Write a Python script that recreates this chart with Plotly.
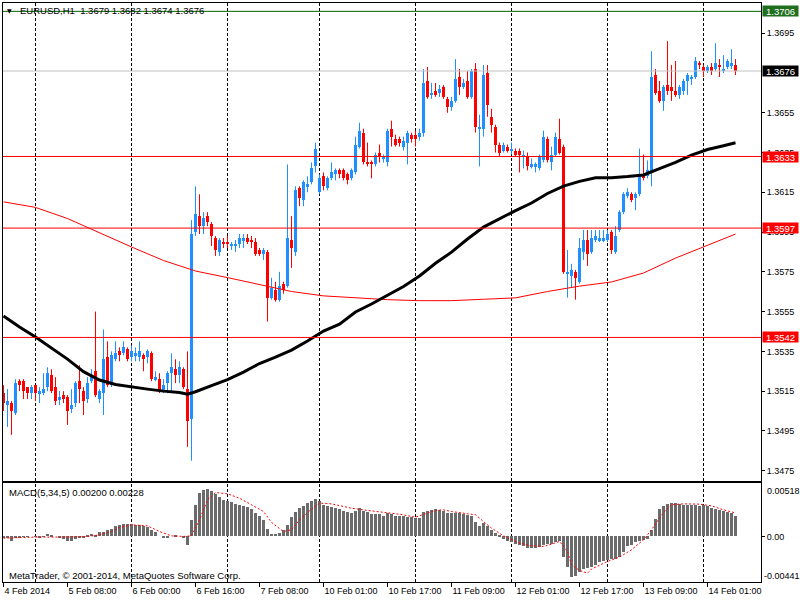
import plotly.graph_objects as go

# EURUSD H1 bars, 4 Feb 2014 16:00 -> 14 Feb 2014 08:00
opens = [
    1.3514, 1.3508, 1.3509, 1.3504, 1.3520, 1.3520, 1.3517, 1.3514, 1.3518, 1.3514,
    1.3514, 1.3517, 1.3523, 1.3517, 1.3511, 1.3513, 1.3512, 1.3506, 1.3509, 1.3520,
    1.3515, 1.3511, 1.3520, 1.3525, 1.3511, 1.3514, 1.3532, 1.3518, 1.3531, 1.3535,
    1.3534, 1.3536, 1.3532, 1.3533, 1.3532, 1.3533, 1.3532, 1.3534, 1.3521, 1.3521,
    1.3515, 1.3519, 1.3524, 1.3526, 1.3523, 1.3526, 1.3516, 1.3501, 1.3595, 1.3603,
    1.3598, 1.3603, 1.3599, 1.3592, 1.3585, 1.3590, 1.3590, 1.3588, 1.3588, 1.3589,
    1.3591, 1.3592, 1.3591, 1.3590, 1.3586, 1.3584, 1.3585, 1.3562, 1.3566, 1.3561,
    1.3569, 1.3568, 1.3591, 1.3585, 1.3617, 1.3611, 1.3618, 1.3620, 1.3628, 1.3615,
    1.3623, 1.3617, 1.3622, 1.3624, 1.3626, 1.3626, 1.3624, 1.3622, 1.3625, 1.3638,
    1.3645, 1.3630, 1.3630, 1.3629, 1.3635, 1.3632, 1.3630, 1.3647, 1.3642, 1.3642,
    1.3638, 1.3640, 1.3644, 1.3644, 1.3643, 1.3645, 1.3671, 1.3664, 1.3666, 1.3665,
    1.3668, 1.3662, 1.3658, 1.3661, 1.3673, 1.3668, 1.3671, 1.3663, 1.3677, 1.3647,
    1.3647, 1.3675, 1.3653, 1.3648, 1.3639, 1.3636, 1.3638, 1.3636, 1.3636, 1.3636,
    1.3633, 1.3633, 1.3628, 1.3628, 1.3627, 1.3631, 1.3642, 1.3630, 1.3634, 1.3642,
    1.3638, 1.3574, 1.3573, 1.3575, 1.3570, 1.3585, 1.3591, 1.3585, 1.3591, 1.3591,
    1.3591, 1.3591, 1.3595, 1.3585, 1.3596, 1.3605, 1.3613, 1.3614, 1.3612, 1.3614,
    1.3624, 1.3623, 1.3625, 1.3674, 1.3666, 1.3661, 1.3669, 1.3668, 1.3666, 1.3664,
    1.3666, 1.3671, 1.3672, 1.3673, 1.3680, 1.3678, 1.3676, 1.3678, 1.3677, 1.3679,
    1.3676, 1.3678, 1.3679, 1.3679]
highs = [
    1.3518, 1.3516, 1.3510, 1.3521, 1.3521, 1.3521, 1.3517, 1.3518, 1.3518, 1.3517,
    1.3524, 1.3527, 1.3526, 1.3522, 1.3515, 1.3515, 1.3513, 1.3516, 1.3520, 1.3528,
    1.3517, 1.3522, 1.3526, 1.3555, 1.3516, 1.3546, 1.3540, 1.3535, 1.3540, 1.3537,
    1.3540, 1.3537, 1.3538, 1.3537, 1.3540, 1.3534, 1.3536, 1.3535, 1.3525, 1.3524,
    1.3521, 1.3525, 1.3534, 1.3531, 1.3530, 1.3527, 1.3535, 1.3601, 1.3618, 1.3614,
    1.3605, 1.3605, 1.3600, 1.3593, 1.3592, 1.3592, 1.3593, 1.3590, 1.3591, 1.3594,
    1.3594, 1.3594, 1.3593, 1.3592, 1.3587, 1.3587, 1.3586, 1.3572, 1.3570, 1.3575,
    1.3570, 1.3629, 1.3603, 1.3618, 1.3618, 1.3621, 1.3623, 1.3630, 1.3640, 1.3624,
    1.3625, 1.3623, 1.3630, 1.3627, 1.3627, 1.3627, 1.3625, 1.3627, 1.3643, 1.3650,
    1.3647, 1.3640, 1.3631, 1.3635, 1.3639, 1.3634, 1.3647, 1.3651, 1.3644, 1.3643,
    1.3643, 1.3646, 1.3645, 1.3646, 1.3647, 1.3677, 1.3678, 1.3670, 1.3670, 1.3669,
    1.3669, 1.3663, 1.3663, 1.3682, 1.3677, 1.3672, 1.3676, 1.3677, 1.3680, 1.3654,
    1.3679, 1.3679, 1.3657, 1.3649, 1.3640, 1.3640, 1.3639, 1.3640, 1.3637, 1.3637,
    1.3636, 1.3635, 1.3632, 1.3630, 1.3634, 1.3646, 1.3643, 1.3638, 1.3645, 1.3652,
    1.3639, 1.3586, 1.3579, 1.3576, 1.3592, 1.3596, 1.3596, 1.3596, 1.3596, 1.3596,
    1.3596, 1.3596, 1.3596, 1.3598, 1.3606, 1.3615, 1.3617, 1.3615, 1.3615, 1.3637,
    1.3634, 1.3631, 1.3686, 1.3677, 1.3671, 1.3669, 1.3691, 1.3679, 1.3681, 1.3669,
    1.3672, 1.3675, 1.3674, 1.3683, 1.3681, 1.3679, 1.3679, 1.3680, 1.3690, 1.3682,
    1.3684, 1.3682, 1.3687, 1.3682]
lows = [
    1.3505, 1.3497, 1.3493, 1.3503, 1.3515, 1.3511, 1.3511, 1.3511, 1.3510, 1.3509,
    1.3513, 1.3515, 1.3514, 1.3508, 1.3508, 1.3509, 1.3498, 1.3504, 1.3507, 1.3509,
    1.3503, 1.3509, 1.3519, 1.3512, 1.3509, 1.3503, 1.3517, 1.3517, 1.3530, 1.3530,
    1.3533, 1.3530, 1.3530, 1.3530, 1.3530, 1.3525, 1.3529, 1.3520, 1.3520, 1.3514,
    1.3514, 1.3514, 1.3515, 1.3519, 1.3519, 1.3516, 1.3487, 1.3480, 1.3593, 1.3594,
    1.3594, 1.3598, 1.3588, 1.3583, 1.3583, 1.3587, 1.3587, 1.3586, 1.3585, 1.3587,
    1.3587, 1.3589, 1.3587, 1.3583, 1.3583, 1.3581, 1.3550, 1.3561, 1.3560, 1.3560,
    1.3564, 1.3567, 1.3577, 1.3583, 1.3608, 1.3608, 1.3615, 1.3619, 1.3625, 1.3614,
    1.3616, 1.3616, 1.3621, 1.3621, 1.3622, 1.3621, 1.3619, 1.3621, 1.3624, 1.3637,
    1.3629, 1.3628, 1.3622, 1.3628, 1.3630, 1.3630, 1.3628, 1.3638, 1.3638, 1.3638,
    1.3636, 1.3629, 1.3640, 1.3638, 1.3641, 1.3643, 1.3662, 1.3662, 1.3663, 1.3663,
    1.3662, 1.3655, 1.3656, 1.3660, 1.3664, 1.3667, 1.3662, 1.3662, 1.3645, 1.3628,
    1.3643, 1.3653, 1.3645, 1.3635, 1.3633, 1.3635, 1.3635, 1.3634, 1.3633, 1.3625,
    1.3627, 1.3626, 1.3627, 1.3625, 1.3626, 1.3630, 1.3630, 1.3626, 1.3633, 1.3634,
    1.3574, 1.3562, 1.3567, 1.3561, 1.3569, 1.3581, 1.3578, 1.3584, 1.3590, 1.3590,
    1.3590, 1.3590, 1.3584, 1.3584, 1.3595, 1.3604, 1.3612, 1.3610, 1.3606, 1.3613,
    1.3621, 1.3622, 1.3618, 1.3664, 1.3660, 1.3656, 1.3664, 1.3661, 1.3663, 1.3662,
    1.3664, 1.3664, 1.3669, 1.3672, 1.3677, 1.3673, 1.3675, 1.3674, 1.3676, 1.3673,
    1.3675, 1.3677, 1.3677, 1.3674]
closes = [
    1.3509, 1.3510, 1.3505, 1.3519, 1.3518, 1.3515, 1.3514, 1.3517, 1.3514, 1.3515,
    1.3516, 1.3524, 1.3515, 1.3510, 1.3512, 1.3511, 1.3505, 1.3508, 1.3519, 1.3516,
    1.3510, 1.3519, 1.3522, 1.3513, 1.3515, 1.3531, 1.3518, 1.3533, 1.3534, 1.3533,
    1.3537, 1.3531, 1.3535, 1.3534, 1.3535, 1.3531, 1.3535, 1.3521, 1.3522, 1.3515,
    1.3518, 1.3524, 1.3527, 1.3523, 1.3527, 1.3517, 1.3500, 1.3594, 1.3604, 1.3598,
    1.3602, 1.3600, 1.3593, 1.3586, 1.3591, 1.3589, 1.3589, 1.3589, 1.3589, 1.3592,
    1.3592, 1.3590, 1.3590, 1.3584, 1.3584, 1.3586, 1.3562, 1.3567, 1.3561, 1.3568,
    1.3566, 1.3592, 1.3587, 1.3616, 1.3612, 1.3620, 1.3619, 1.3627, 1.3637, 1.3622,
    1.3618, 1.3622, 1.3625, 1.3626, 1.3624, 1.3622, 1.3621, 1.3626, 1.3639, 1.3646,
    1.3630, 1.3629, 1.3629, 1.3634, 1.3633, 1.3633, 1.3646, 1.3643, 1.3639, 1.3640,
    1.3641, 1.3645, 1.3642, 1.3642, 1.3645, 1.3670, 1.3663, 1.3665, 1.3664, 1.3667,
    1.3663, 1.3658, 1.3661, 1.3672, 1.3668, 1.3670, 1.3663, 1.3676, 1.3648, 1.3648,
    1.3674, 1.3659, 1.3649, 1.3639, 1.3635, 1.3639, 1.3636, 1.3637, 1.3634, 1.3634,
    1.3634, 1.3628, 1.3629, 1.3629, 1.3633, 1.3643, 1.3631, 1.3634, 1.3643, 1.3635,
    1.3575, 1.3575, 1.3576, 1.3572, 1.3587, 1.3591, 1.3584, 1.3592, 1.3593, 1.3592,
    1.3592, 1.3594, 1.3586, 1.3593, 1.3605, 1.3614, 1.3615, 1.3611, 1.3614, 1.3623,
    1.3622, 1.3626, 1.3673, 1.3665, 1.3661, 1.3668, 1.3666, 1.3666, 1.3664, 1.3668,
    1.3671, 1.3674, 1.3673, 1.3681, 1.3679, 1.3676, 1.3678, 1.3676, 1.3680, 1.3678,
    1.3677, 1.3681, 1.3680, 1.3676]

# moving averages, sampled along the drawn lines (bar index, price)
ma_black_bars = [0, 4, 8, 12, 16, 20, 24, 28, 32, 36, 40, 44, 46, 48, 52, 56, 60, 64, 68, 72,
                 76, 80, 84, 88, 92, 96, 100, 104, 108, 112, 116, 120, 124, 128, 132, 136,
                 140, 144, 148, 152, 156, 160, 164, 168, 172, 176, 180, 183]
ma_black = [1.35528, 1.35472, 1.35422, 1.35367, 1.35311, 1.35248, 1.35206, 1.35183, 1.35170,
            1.35160, 1.35150, 1.35143, 1.35135, 1.35147, 1.35178, 1.35208, 1.35246, 1.35289,
            1.35321, 1.35356, 1.35402, 1.35452, 1.35487, 1.35548, 1.35588, 1.35631, 1.35676,
            1.35729, 1.35793, 1.35849, 1.35915, 1.35975, 1.36018, 1.36058, 1.36096, 1.36144,
            1.36181, 1.36205, 1.36223, 1.36223, 1.36229, 1.36237, 1.36269, 1.36300, 1.36337,
            1.36365, 1.36384, 1.36399]
ma_red_bars = [0, 8, 16, 24, 32, 40, 48, 56, 64, 72, 80, 88, 96, 104, 112, 120, 128, 136,
               144, 152, 160, 168, 176, 183]
ma_red = [1.36102, 1.36074, 1.36018, 1.35945, 1.35875, 1.35807, 1.35754, 1.35721, 1.35686,
          1.35651, 1.35629, 1.35618, 1.35610, 1.35605, 1.35605, 1.35612, 1.35619, 1.35651,
          1.35678, 1.35699, 1.35744, 1.35819, 1.35885, 1.35940]

# MACD(5,34,5) histogram, one value per bar
macd_hist = [
    -0.00016, -0.00019, -0.00042, -0.00016, -0.00010, -0.00003, 0.00003, 0.00000, -0.00003, -0.00006,
    0.00003, 0.00023, 0.00016, 0.00000, -0.00016, -0.00023, -0.00039, -0.00045, -0.00026, -0.00019,
    -0.00006, 0.00006, 0.00026, 0.00013, 0.00039, 0.00048, 0.00058, 0.00077, 0.00097, 0.00110,
    0.00119, 0.00123, 0.00119, 0.00113, 0.00107, 0.00097, 0.00087, 0.00058, 0.00039, 0.00000,
    -0.00016, -0.00013, 0.00000, 0.00006, 0.00000, -0.00006, -0.00081, 0.00155, 0.00307, 0.00420,
    0.00452, 0.00459, 0.00442, 0.00413, 0.00387, 0.00355, 0.00346, 0.00333, 0.00316, 0.00304,
    0.00291, 0.00281, 0.00265, 0.00232, 0.00200, 0.00161, 0.00071, 0.00026, 0.00026, 0.00032,
    0.00065, 0.00113, 0.00191, 0.00236, 0.00274, 0.00300, 0.00323, 0.00346, 0.00365, 0.00342,
    0.00307, 0.00291, 0.00284, 0.00274, 0.00262, 0.00249, 0.00236, 0.00226, 0.00249, 0.00274,
    0.00249, 0.00236, 0.00220, 0.00216, 0.00213, 0.00203, 0.00226, 0.00220, 0.00200, 0.00194,
    0.00194, 0.00187, 0.00184, 0.00178, 0.00178, 0.00236, 0.00249, 0.00258, 0.00265, 0.00258,
    0.00242, 0.00226, 0.00226, 0.00232, 0.00226, 0.00220, 0.00210, 0.00200, 0.00139, 0.00097,
    0.00129, 0.00097, 0.00065, 0.00032, 0.00006, -0.00026, -0.00042, -0.00058, -0.00071, -0.00081,
    -0.00090, -0.00107, -0.00113, -0.00113, -0.00103, -0.00084, -0.00071, -0.00074, -0.00052, -0.00048,
    -0.00203, -0.00297, -0.00394, -0.00378, -0.00342, -0.00313, -0.00307, -0.00291, -0.00274, -0.00252,
    -0.00242, -0.00226, -0.00220, -0.00216, -0.00194, -0.00152, -0.00097, -0.00081, -0.00058, -0.00042,
    -0.00032, -0.00023, 0.00065, 0.00168, 0.00268, 0.00291, 0.00316, 0.00323, 0.00323, 0.00316,
    0.00307, 0.00307, 0.00307, 0.00307, 0.00300, 0.00307, 0.00291, 0.00274, 0.00265, 0.00252,
    0.00242, 0.00236, 0.00226, 0.00200]
signal_bars = [0, 8, 16, 21, 24, 27, 29, 32, 36, 39, 42, 45, 47, 49, 51, 53, 56, 59, 62, 65,
               67, 70, 72, 74, 77, 79, 82, 87, 91, 95, 99, 103, 106, 108, 110, 112, 116, 118,
               120, 122, 125, 127, 129, 132, 135, 137, 139, 141, 142, 144, 146, 147, 151, 154,
               157, 160, 162, 165, 167, 170, 174, 177, 180, 183]
macd_signal = [-0.00016, -0.00006, -0.00006, 0.00000, 0.00016, 0.00048, 0.00087, 0.00113,
               0.00103, 0.00048, 0.00006, 0.00000, 0.00006, 0.00161, 0.00355, 0.00426, 0.00413,
               0.00371, 0.00307, 0.00242, 0.00136, 0.00048, 0.00065, 0.00161, 0.00265, 0.00323,
               0.00316, 0.00274, 0.00252, 0.00236, 0.00216, 0.00187, 0.00226, 0.00252, 0.00258,
               0.00242, 0.00220, 0.00210, 0.00145, 0.00081, 0.00006, -0.00032, -0.00065, -0.00090,
               -0.00097, -0.00074, -0.00048, -0.00145, -0.00274, -0.00329, -0.00355, -0.00316,
               -0.00242, -0.00200, -0.00129, -0.00032, 0.00065, 0.00232, 0.00307, 0.00316,
               0.00313, 0.00297, 0.00258, 0.00228]

time_label_bars = [0, 16, 32, 48, 64, 80, 96, 112, 128, 144, 160, 176]
time_labels = ['4 Feb 2014', '5 Feb 08:00', '6 Feb 00:00', '6 Feb 16:00', '7 Feb 08:00',
               '10 Feb 01:00', '10 Feb 17:00', '11 Feb 09:00', '12 Feb 01:00', '12 Feb 17:00',
               '13 Feb 09:00', '14 Feb 01:00']
day_grid_bars = [8, 32, 56, 79, 103, 127, 151, 175]
# 1.3675 sits fully under the bid label box, so it is left out
price_ticks = [1.3475, 1.3495, 1.3515, 1.3535, 1.3555, 1.3575, 1.3595, 1.3615, 1.3635,
               1.3655, 1.3695]

levels = [1.3706, 1.3676, 1.3633, 1.3597, 1.3542]
level_line_colors = ['#006400', '#c0c0c0', '#ff0000', '#ff0000', '#ff0000']
level_box_colors = ['#1f6f1f', '#000000', '#ff0000', '#ff0000', '#ff0000']

BULL = '#1e90ff'
BEAR = '#ff0000'
FONT = 'Liberation Sans, Arial, sans-serif'
X_RANGE = [-0.125, 189.375]

bars = list(range(len(opens)))
bull = [i for i in bars if closes[i] > opens[i]]
bear = [i for i in bars if closes[i] <= opens[i]]

fig = go.Figure()


def wicks(sel):
    xs, ys = [], []
    for i in sel:
        xs += [i, i, None]
        ys += [lows[i], highs[i], None]
    return xs, ys


for sel, col in [(bull, BULL), (bear, BEAR)]:
    wx, wy = wicks(sel)
    fig.add_trace(go.Scatter(x=wx, y=wy, mode='lines', line=dict(color=col, width=1),
                             hoverinfo='skip', xaxis='x', yaxis='y'))

fig.add_trace(go.Bar(
    x=bars, y=[closes[i] - opens[i] for i in bars], base=opens, width=0.75,
    marker=dict(color=[BULL if closes[i] > opens[i] else BEAR for i in bars], line=dict(width=0)),
    xaxis='x', yaxis='y'))

fig.add_trace(go.Scatter(x=ma_red_bars, y=ma_red, mode='lines',
                         line=dict(color='#ff0000', width=1), xaxis='x', yaxis='y'))
fig.add_trace(go.Scatter(x=ma_black_bars, y=ma_black, mode='lines',
                         line=dict(color='#000000', width=3), xaxis='x', yaxis='y'))

# MACD pane
fig.add_trace(go.Bar(x=bars, y=macd_hist, width=0.75,
                     marker=dict(color='#6b6b6b', line=dict(width=0)),
                     xaxis='x2', yaxis='y2'))
fig.add_trace(go.Scatter(x=signal_bars, y=macd_signal, mode='lines',
                         line=dict(color='#ff0000', width=1, dash='2px,2px'),
                         xaxis='x2', yaxis='y2'))

shapes = []
for g in day_grid_bars:
    for xr, yr in [('x', 'y domain'), ('x2', 'y2 domain')]:
        shapes.append(dict(type='line', xref=xr, yref=yr, x0=g, x1=g, y0=0, y1=1,
                           line=dict(color='black', width=1, dash='3px,2px'), layer='below'))
for lv, col in zip(levels, level_line_colors):
    shapes.append(dict(type='line', xref='x domain', yref='y', x0=0, x1=1, y0=lv, y1=lv,
                       line=dict(color=col, width=1), layer='above'))

annotations = [
    dict(text='▼', x=9.5 / 800, y=1 - 11 / 600, xanchor='center', yanchor='middle',
         font=dict(family='DejaVu Sans', size=6, color='black')),
    dict(text='EURUSD,H1  1.3679 1.3682 1.3674 1.3676', x=18 / 800, y=1 - 11 / 600,
         xanchor='left', yanchor='middle', font=dict(size=9.5)),
    dict(text='MACD(5,34,5) 0.00200 0.00228', x=7 / 800, y=1 - 492.5 / 600,
         xanchor='left', yanchor='middle', font=dict(size=9.5)),
    dict(text='MetaTrader, © 2001-2014, MetaQuotes Software Corp.', x=7 / 800, y=1 - 575 / 600,
         xanchor='left', yanchor='middle', font=dict(size=9.5)),
    dict(text='0.00518', x=765 / 800, y=1 - 490.7 / 600, xanchor='left', yanchor='middle',
         font=dict(size=9)),
    dict(text='-0.00441', x=762 / 800, y=1 - 575.7 / 600, xanchor='left', yanchor='middle',
         font=dict(size=9)),
]
for lv, col in zip(levels, level_box_colors):
    annotations.append(dict(text='%.4f' % lv, x=762 / 800, xref='paper', y=lv, yref='y',
                            xanchor='left', yanchor='middle', width=35, height=10, borderpad=0,
                            bgcolor=col, font=dict(size=9.5, color='white')))
for a in annotations:
    a.setdefault('xref', 'paper')
    a.setdefault('yref', 'paper')
    a['showarrow'] = False

axis_common = dict(showgrid=False, zeroline=False, showline=True, mirror=True,
                   linecolor='black', linewidth=1, tickcolor='black', fixedrange=True)

fig.update_layout(
    width=800, height=600, margin=dict(l=0, r=0, t=0, b=0),
    paper_bgcolor='white', plot_bgcolor='white', showlegend=False, bargap=0,
    font=dict(family=FONT, size=9, color='black'),
    xaxis=dict(domain=[3 / 800, 761 / 800], range=X_RANGE, anchor='y',
               showticklabels=False, ticks='', **axis_common),
    yaxis=dict(domain=[119 / 600, 597 / 600], range=[1.34698, 1.37102], side='right',
               anchor='x', tickvals=price_ticks, tickformat='.4f', ticks='outside',
               ticklen=3, **axis_common),
    xaxis2=dict(domain=[3 / 800, 761 / 800], range=X_RANGE, anchor='y2',
                tickvals=time_label_bars, ticktext=time_labels, ticks='outside', ticklen=4,
                ticklabelposition='outside right', **axis_common),
    yaxis2=dict(domain=[18 / 600, 117 / 600], range=[-0.00441, 0.00518], side='right',
                anchor='x2', tickvals=[0], ticktext=['0.00'], ticks='outside', ticklen=3,
                **axis_common),
    shapes=shapes, annotations=annotations,
)

# the page body has a default margin; drop it so the chart sits at the window corner
fig.write_html('out.html', config={'displayModeBar': False},
               post_script="document.body.style.margin='0';")
